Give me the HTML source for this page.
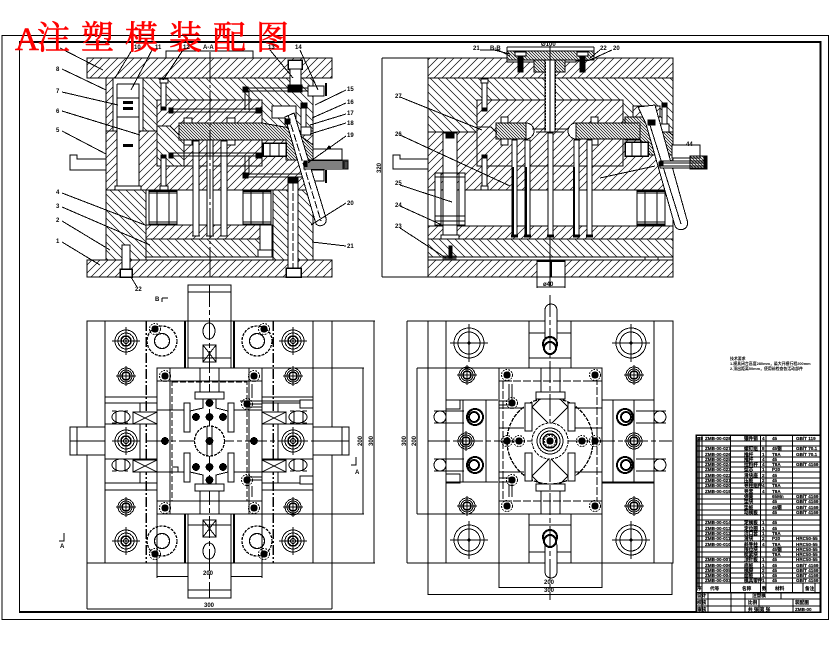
<!DOCTYPE html>
<html><head><meta charset="utf-8"><style>
html,body{margin:0;padding:0;background:#fff;width:830px;height:654px;overflow:hidden}
svg{display:block}
text{font-family:"Liberation Sans","Noto Sans CJK SC",sans-serif;font-weight:700;fill:#000;stroke:none}
.l{font-size:6px}
.s{font-size:4.6px;stroke:#000;stroke-width:.15}
.n{font-size:3.9px}
.t{font-family:"Liberation Serif","Noto Serif CJK SC",serif;font-size:33px;font-weight:400;fill:#f00;stroke:#f00;stroke-width:.6}
</style></head><body>
<svg width="830" height="654" viewBox="0 0 830 654" xmlns="http://www.w3.org/2000/svg" fill="none" stroke="#000" stroke-width="1">
<defs>
<pattern id="a" width="8" height="8" patternUnits="userSpaceOnUse"><path d="M-1 1L1 -1M0 8L8 0M7 9L9 7" stroke="#000" stroke-width=".7"/></pattern>
<pattern id="b" width="8" height="8" patternUnits="userSpaceOnUse"><path d="M-1 7L1 9M0 0L8 8M7 -1L9 1" stroke="#000" stroke-width=".7"/></pattern>
<pattern id="f" width="3" height="3" patternUnits="userSpaceOnUse"><path d="M0 0L3 3M-1 2L1 4M2 -1L4 1" stroke="#000" stroke-width=".7"/></pattern>
<g id="big"><circle r="15"/><circle r="11"/><path d="M-19 0H19M0 -19V19"/><circle r="1" fill="#000"/></g>
<g id="bolt1"><circle r="11"/><circle r="8"/><circle r="5" stroke-width="1.5"/><circle r="2.5"/><path d="M-14 0H14M0 -14V14"/></g>
<g id="bolt2"><circle r="8"/><circle r="6"/><circle r="4" stroke-width="1.5"/><path d="M-10 0H10M0 -10V10"/></g>
<g id="dk"><circle r="5.5" stroke-dasharray="2 1"/><circle r="3.2" fill="#000"/></g>
<circle id="d" r="3.4" fill="#000"/>
<g id="fr"><rect width="28" height="35"/><path d="M0 3H28M0 32H28M8 0V35M20 0V35"/><path d="M0 1H28M0 34H28" stroke-width="1.5"/></g>
</defs>
<rect width="830" height="654" fill="#fff" stroke="none"/>
<g shape-rendering="crispEdges">
<!-- sheet frame -->
<path d="M2 619.5V35.5H828.5V619.5Z"/>
<path d="M19.5 612V42H820" />
<path d="M19 42H820.5V612H19" stroke-width="2"/>

<!-- SECTION A-A -->
<rect x="166" y="51" width="87" height="7" fill="#fff"/>
<rect x="87" y="58" width="245" height="20" fill="url(#a)"/>
<rect x="106" y="78" width="207" height="182" fill="#fff"/>
<rect x="106" y="78" width="7" height="53" fill="url(#a)"/>
<rect x="143" y="78" width="170" height="53" fill="url(#b)"/>
<rect x="106" y="131" width="11" height="59" fill="url(#a)"/>
<rect x="139" y="131" width="174" height="59" fill="url(#a)"/>
<rect x="106" y="190" width="40" height="70" fill="url(#b)"/>
<rect x="273" y="190" width="40" height="70" fill="url(#b)"/>
<rect x="146" y="225" width="127" height="14" fill="url(#a)"/>
<rect x="146" y="239" width="127" height="18" fill="url(#b)"/>
<rect x="87" y="260" width="245" height="17" fill="url(#a)"/>
<rect x="157" y="100" width="105" height="66" fill="#fff"/>
<rect x="157" y="100" width="105" height="66" fill="url(#a)"/>
<path d="M157 126H170L184 140V166H157Z" fill="#fff"/>
<path d="M157 126H170L184 140V166H157Z" fill="url(#b)"/>
<path d="M272 106H296V118H272Z" fill="#fff"/>
<path d="M179 123H262L290 128L313 145V160H286V140H179Z" fill="#fff"/>
<path d="M179 123H262L290 128L313 145V160H286V140H179Z" fill="url(#f)"/>
<rect x="263" y="143" width="23" height="13" fill="#fff" stroke-width="1.5"/>
<path d="M270 143V156M279 143V156"/>
<path d="M143 78V131M113 78V131M117 84H139V190H117V84M117 98H139M117 117H139"/>
<rect x="123" y="101" width="10" height="3" fill="#000" stroke="none"/>
<rect x="123" y="107" width="10" height="3" fill="#000" stroke="none"/>
<rect x="123" y="144" width="10" height="3" fill="#000" stroke="none"/>
<rect x="115" y="186" width="26" height="4" fill="#fff"/>
<!-- spacer gap -->
<rect x="146" y="190" width="127" height="35" fill="#fff"/>
<use href="#fr" x="149" y="190"/><use href="#fr" x="243" y="190"/>
<!-- ejector pins -->
<rect x="193" y="141" width="6" height="95" fill="#fff"/><rect x="207" y="140" width="6" height="96" fill="#fff"/><rect x="221" y="141" width="6" height="95" fill="#fff"/>
<path d="M192 236h8M206 236h8M220 236h8M192 239h8M206 239h8M220 239h8"/>
<rect x="184" y="118" width="8" height="5" fill="#fff"/><rect x="227" y="118" width="8" height="5" fill="#fff"/>
<rect x="184" y="140" width="8" height="5" fill="#fff"/><rect x="227" y="140" width="8" height="5" fill="#fff"/>
<rect x="260" y="225" width="12" height="32" fill="#fff"/><rect x="258" y="250" width="14" height="7" fill="#fff"/>
<path d="M146 257V260M273 257V260M146 257H273M156 257h13M250 257h13" />
<path d="M210 52V277" stroke-dasharray="30 3 3 3"/>
<!-- bolts -->
<rect x="122" y="245" width="8" height="24" fill="#fff"/><rect x="120" y="269" width="12" height="8" fill="#fff" stroke-width="1.5"/>
<rect x="161" y="79" width="5" height="30" fill="#fff"/><rect x="160" y="79" width="8" height="4" fill="#fff"/><rect x="161" y="107" width="5" height="3" fill="#000"/>
<rect x="161" y="156" width="5" height="30" fill="#fff"/><rect x="160" y="186" width="8" height="4" fill="#fff"/><rect x="161" y="155" width="5" height="3" fill="#000"/>
<!-- cooling -->
<path d="M245 88H320M245 91H320M245 174H320M245 177H320M170 109H258M170 112H258M170 153H258M170 156H258M245 91V110M249 91V110M245 156V175M249 156V175" stroke-width="1"/>
<rect x="243" y="87" width="5" height="5" fill="#000"/><rect x="243" y="173" width="5" height="5" fill="#000"/><rect x="256" y="108" width="5" height="5" fill="#000"/><rect x="256" y="153" width="5" height="5" fill="#000"/>
<rect x="169" y="108" width="4" height="5" fill="#000"/><rect x="169" y="153" width="4" height="5" fill="#000"/>
<rect x="308" y="86" width="16" height="10" fill="#fff"/><rect x="308" y="170" width="16" height="11" fill="#fff"/>
<path d="M326 83V96M326 170V183" stroke-width="2"/>
<!-- leader pin -->
<rect x="288" y="60" width="14" height="9" fill="#fff" stroke-width="1.5"/>
<rect x="290" y="69" width="11" height="18" fill="#fff"/>
<rect x="288" y="85" width="14" height="7" fill="#000"/>
<rect x="288" y="178" width="10" height="5" fill="#000"/>
<rect x="288" y="183" width="10" height="85" fill="#fff"/>
<rect x="286" y="268" width="15" height="9" fill="#fff" stroke-width="1.5"/>
<path d="M293 183V268" stroke-dasharray="8 2"/>
<rect x="301" y="106" width="5" height="28" fill="#fff"/><rect x="301" y="127" width="10" height="8" fill="#fff"/><rect x="301" y="103" width="6" height="5" fill="#000"/>
<!-- angle pin -->
<path d="M285 117L294 113L326 218A6 6 0 0 1 316 224Z" fill="#fff"/>
<path d="M288 115L321 221" stroke-dasharray="8 2"/>
<rect x="285" y="119" width="5" height="5" fill="#000"/>
<!-- side bits -->
<path d="M70 155H77V159H106V170H70Z" fill="#fff"/>
<path d="M313 149H342V160H313Z" fill="#fff"/>
<rect x="304" y="161" width="44" height="8" fill="#fff"/>
<path d="M304 163H345M304 165H345M304 167H345M343 161V169"/>
<rect x="343" y="160" width="5" height="9" fill="#000" opacity=".7"/>
<path d="M327 149l2-3 2 3" fill="#000"/>
<rect x="304" y="162" width="3" height="5" fill="#000"/>
<!-- leaders A -->
<path d="M60 48L103 70M62 69L106 90M62 92L118 105M62 111L140 135M62 131L106 154M62 193L145 225M62 207L150 245M62 221L110 250M62 242L100 265"/>
<path d="M132 50L115 78M152 50L131 90M183 50L163 80M270 50L293 78M300 50L318 90M346 90L315 105M346 103L312 118M346 114L310 125M346 123L310 134M346 136L305 165M346 203L311 225M346 246L312 242"/>
<path d="M131 277L137 287"/>
<!-- sect A dim stub -->
<path d="M188 285V296M230 285V296M188 285H230M209 285V296"/>

<!-- SECTION B-B -->
<rect x="428" y="58" width="245" height="20" fill="url(#a)"/>
<rect x="428" y="78" width="245" height="54" fill="url(#b)"/>
<rect x="428" y="132" width="245" height="58" fill="url(#a)"/>
<rect x="428" y="190" width="245" height="36" fill="#fff"/>
<rect x="428" y="226" width="245" height="13" fill="url(#a)"/>
<rect x="428" y="239" width="245" height="18" fill="url(#b)"/>
<rect x="428" y="257" width="245" height="3" fill="#fff"/>
<rect x="428" y="260" width="245" height="17" fill="url(#a)"/>
<rect x="645" y="257" width="13" height="3" fill="#fff"/>
<rect x="537" y="261" width="28" height="16" fill="#fff"/><path d="M551 261V277M537 261H565" stroke-width="2"/>
<rect x="477" y="100" width="146" height="66" fill="#fff"/>
<rect x="477" y="100" width="146" height="66" fill="url(#a)"/>
<!-- slide wedge B -->
<path d="M633 106H660V117H633Z" fill="#fff"/>
<path d="M633 106H660V117H633Z" fill="url(#a)"/>
<path d="M625 117H645L673 135V155H650L640 140H625Z" fill="#fff"/>
<path d="M625 117H645L673 135V155H650L640 140H625Z" fill="url(#f)"/>
<path d="M496 123H526A8 8 0 0 1 526 139H496Z" fill="#fff"/>
<path d="M496 123H526V139H496Z" fill="url(#f)"/>
<path d="M576 123H640V139H576A8 8 0 0 1 576 123Z" fill="#fff"/>
<path d="M576 123H640V139H576Z" fill="url(#f)"/>
<path d="M477 127H491L497 133M532 129H568M536 132H564"/>
<rect x="501" y="117" width="7" height="6" fill="#fff"/><rect x="591" y="117" width="7" height="6" fill="#fff"/><rect x="501" y="139" width="7" height="6" fill="#fff"/><rect x="591" y="139" width="7" height="6" fill="#fff"/>
<rect x="625" y="142" width="23" height="14" fill="#fff" stroke-width="1.5"/><path d="M632 142V156M641 142V156"/>
<!-- sprue -->
<path d="M507 51H594V60L576 61V62H507Z" fill="#fff"/>
<path d="M507 51H594V60H507Z" fill="url(#f)"/>
<rect x="534" y="60" width="31" height="12" fill="#fff"/><rect x="534" y="60" width="31" height="12" fill="url(#f)"/>
<rect x="545" y="60" width="10" height="72" fill="#fff"/>
<path d="M545 62V130M555 62V130" stroke-dasharray="2 1" stroke-width="1.5"/>
<rect x="518" y="52" width="5" height="20" fill="#000"/><rect x="580" y="52" width="5" height="20" fill="#000"/>
<rect x="515" y="52" width="11" height="4" fill="#fff"/><rect x="577" y="52" width="11" height="4" fill="#fff"/>
<path d="M550 46V287"/>
<!-- pillars B -->
<rect x="443" y="133" width="14" height="104" fill="#fff"/>
<rect x="441" y="235" width="18" height="4" fill="#fff"/><rect x="446" y="134" width="8" height="4" fill="#000"/>
<g fill="#fff"><rect x="435" y="173" width="6" height="52"/><rect x="459" y="173" width="6" height="52"/></g>
<path d="M435 173H465M435 177H465M435 216H465M435 221H465M435 225H465" stroke-width="1"/>
<use href="#fr" x="637" y="190"/>
<!-- ejector -->
<rect x="512" y="140" width="5" height="96" fill="#fff"/><rect x="525" y="140" width="5" height="96" fill="#fff"/><rect x="548" y="133" width="5" height="103" fill="#fff"/><rect x="574" y="140" width="5" height="96" fill="#fff"/><rect x="587" y="140" width="5" height="96" fill="#fff"/>
<path d="M513 167V236M526 167V236M574 167V236" stroke-width="2"/>
<path d="M511 236h7M524 236h7M547 236h7M573 236h7M586 236h7" stroke-width="3"/>
<!-- bolts B -->
<rect x="482" y="80" width="5" height="30" fill="#fff"/><rect x="481" y="79" width="7" height="4" fill="#fff"/><rect x="482" y="108" width="5" height="3" fill="#000"/>
<rect x="482" y="156" width="5" height="31" fill="#fff"/><rect x="481" y="186" width="7" height="4" fill="#fff"/><rect x="482" y="155" width="5" height="3" fill="#000"/>
<rect x="449" y="246" width="3" height="12" fill="#000"/><rect x="443" y="256" width="13" height="4" fill="#000" opacity=".7"/>
<rect x="662" y="104" width="5" height="21" fill="#fff"/><rect x="660" y="124" width="9" height="8" fill="#fff"/><rect x="662" y="103" width="5" height="4" fill="#000"/>
<!-- angle pin B -->
<path d="M638 107L655 105L687 220A6 6 0 0 1 675 226L646 124Z" fill="#fff"/>
<path d="M649 122L681 224" stroke-width="1"/>
<rect x="648" y="120" width="7" height="5" fill="#000"/>
<path d="M393 155H400V159H428V169H393Z" fill="#fff"/>
<rect x="672" y="145" width="28" height="13" fill="#fff"/>
<rect x="660" y="161" width="46" height="7" fill="#fff"/>
<path d="M660 163H704M660 166H704"/>
<rect x="690" y="156" width="16" height="13" fill="url(#f)"/><rect x="704" y="156" width="3" height="13" fill="#000"/>
<rect x="659" y="162" width="4" height="4" fill="#000"/>
<!-- B leaders -->
<path d="M382 58H428M382 277H428M382 58V277M537 277V288M565 277V288M537 287H565"/>
<path d="M507 47H594M507 47V58M594 47V58"/>
<path d="M400 97L482 130M400 135L510 186M400 185L452 202M400 206L442 225M400 228L446 258M600 178L655 166"/>
<path d="M480 50H498L510 56M494 50L510 54M600 50L590 58M612 50L590 60"/>

<!-- PLAN LEFT -->
<rect x="87" y="321" width="245" height="242" fill="#fff"/>
<path d="M105 321V563M313 321V563M87 563V609M332 563V609M87 609H332M157 514V578M262 514V578M157 576.5H262"/>
<path d="M332 321H375M332 563H375M374 321V563M262 368H364M262 514H364M363 368V514"/>
<rect x="188" y="285" width="43" height="313" fill="#fff"/>
<path d="M188 292H231M188 590H231M188 321H231M188 563H231"/>
<path d="M185 321V368M234 321V368M185 514V563M234 514V563" stroke-width="2"/>
<rect x="70" y="427" width="35" height="28" fill="#fff"/><rect x="313" y="427" width="36" height="28" fill="#fff"/>
<path d="M77 427V455M342 427V455M70 441H105M313 441H349"/>
<path d="M105 397H157M105 403H157M105 424H157M105 459H157M105 483H157M105 490H157M262 397H313M262 403H313M262 424H313M262 459H313M262 483H313M262 490H313M140 403V483M278 403V483"/>
<path d="M146 321V563M273 321V563" stroke-dasharray="10 2 2 2" stroke-width="1.5"/>
<!-- X boxes -->
<g fill="#fff">
<rect x="133" y="412" width="24" height="12"/><rect x="133" y="460" width="24" height="12"/>
<rect x="262" y="412" width="24" height="12"/><rect x="262" y="460" width="24" height="12"/>
<rect x="203" y="345" width="13" height="17"/><rect x="203" y="520" width="13" height="17"/>
</g>
<path d="M133 412L157 424M133 424L157 412M133 460L157 472M133 472L157 460M262 412L286 424M262 424L286 412M262 460L286 472M262 472L286 460M203 345L216 362M216 345L203 362M203 520L216 537M216 520L203 537M188 358H231M188 525H231"/>
<g fill="#fff">
<ellipse cx="121" cy="417" rx="9" ry="6"/><ellipse cx="121" cy="465" rx="9" ry="6"/><ellipse cx="298" cy="417" rx="9" ry="6"/><ellipse cx="298" cy="465" rx="9" ry="6"/>
<ellipse cx="209" cy="331" rx="6" ry="8"/><ellipse cx="209" cy="551" rx="6" ry="8"/>
</g>
<path d="M112 411H116V423H112M128 411H125V423H128M112 459H116V471H112M128 459H125V471H128M290 411H294V423H290M307 411H303V423H307M290 459H294V471H290M307 459H303V471H307"/>
<!-- big corner -->
<g stroke-width="1.3">
<circle cx="162" cy="341" r="15" stroke-dasharray="3 1"/><circle cx="162" cy="341" r="7.5"/>
<circle cx="257" cy="341" r="15" stroke-dasharray="3 1"/><circle cx="257" cy="341" r="7.5"/>
<circle cx="162" cy="541" r="15" stroke-dasharray="3 1"/><circle cx="162" cy="541" r="7.5"/>
<circle cx="257" cy="541" r="15" stroke-dasharray="3 1"/><circle cx="257" cy="541" r="7.5"/>
</g>
<use href="#dk" x="155" y="329"/><use href="#dk" x="264" y="329"/><use href="#dk" x="155" y="554"/><use href="#dk" x="264" y="554"/>
<use href="#bolt1" x="126" y="341"/><use href="#bolt1" x="293" y="341"/><use href="#bolt1" x="126" y="541"/><use href="#bolt1" x="293" y="541"/>
<use href="#bolt2" x="126" y="376"/><use href="#bolt2" x="293" y="376"/><use href="#bolt2" x="126" y="507"/><use href="#bolt2" x="293" y="507"/>
<use href="#bolt1" x="126" y="441"/><use href="#bolt1" x="293" y="441"/>
<!-- inner -->
<rect x="157" y="368" width="105" height="146" fill="#fff" stroke-width="1"/>
<path d="M157 381H262M157 501H262M170 368V514M249 368V514M157 410H184M234 410H262M157 472H184M234 472H262"/>
<rect x="172" y="382" width="75" height="119" stroke-dasharray="6 2"/>
<path d="M200 368V392M219 368V392M200 491V514M219 491V514"/>
<path d="M146 441H313M209.500 285V598" stroke-dasharray="22 3 5 3"/>
<g fill="#fff">
<rect x="195" y="392" width="29" height="7"/><rect x="195" y="484" width="29" height="7"/>
<rect x="184" y="403" width="6" height="29"/><rect x="228" y="403" width="6" height="29"/><rect x="184" y="453" width="6" height="29"/><rect x="228" y="453" width="6" height="29"/>
</g>
<path d="M203 399V408L190 411M216 399V408L228 411M203 484V475L190 472M216 484V475L228 472"/>
<circle cx="209.500" cy="441" r="15" stroke-dasharray="3 1" stroke-width="1.3" fill="#fff"/>
<path d="M207 426V456M212 426V456"/>
<g><use href="#d" x="196" y="417"/><use href="#d" x="209.500" y="417"/><use href="#d" x="223" y="417"/><use href="#d" x="196" y="467"/><use href="#d" x="209.500" y="467"/><use href="#d" x="223" y="467"/><use href="#d" x="209.500" y="403"/><use href="#d" x="209.500" y="480"/><use href="#d" x="209.500" y="441"/><use href="#d" x="165" y="441"/><use href="#d" x="254" y="441"/></g>
<use href="#dk" x="247" y="404"/><use href="#dk" x="247" y="480"/>
<use href="#dk" x="165" y="376"/><use href="#dk" x="254" y="376"/><use href="#dk" x="165" y="508"/><use href="#dk" x="254" y="508"/>
<path d="M247 404H262M247 407H262M247 480H262M247 477H262M240 401H300M249 384V398M252 384V398M249 486V497M252 486V497" />
<rect x="300" y="400" width="13" height="8" fill="#fff" stroke-width="1.3"/><rect x="300" y="476" width="13" height="8" fill="#fff" stroke-width="1.3"/>
<!-- section marks -->
<path d="M162 298H168M162 298V302M356 457V465H351M64 533V541H59M185 368H175M172 467H178V472"/>

<!-- PLAN RIGHT -->
<rect x="428" y="321" width="245" height="242" fill="#fff"/>
<path d="M446 321V563M654 321V563M407 321H428M407 563H428M407 321V563M417 368H499M417 514H499M417 368V514"/>
<path d="M428 563V595M672 563V595M428 594.500H672M499 514V588M602 514V588M499 587.500H602"/>
<rect x="529" y="321" width="42" height="47" fill="#fff"/><rect x="529" y="514" width="42" height="49" fill="#fff"/>
<path d="M529 321V358H571V321M529 333H571M529 514H571M529 525H571M529 552H571M529 563V525M571 563V525" stroke-width="1.3"/>
<rect x="545" y="304" width="12" height="40" rx="6" fill="#fff"/>
<rect x="545" y="540" width="12" height="38" rx="6" fill="#fff"/>
<circle cx="550" cy="344" r="7" stroke-width="2" fill="#fff"/><circle cx="550" cy="348" r="6" stroke-width="2" fill="#fff"/>
<circle cx="550" cy="537" r="7" stroke-width="2" fill="#fff"/><circle cx="550" cy="541" r="6" stroke-width="2" fill="#fff"/>
<use href="#big" x="469" y="343"/><use href="#big" x="631" y="343"/><use href="#big" x="469" y="540"/><use href="#big" x="631" y="540"/>
<use href="#bolt2" x="467" y="375"/><use href="#bolt2" x="634" y="375"/><use href="#bolt2" x="467" y="506"/><use href="#bolt2" x="634" y="506"/>
<!-- slider wings -->
<path d="M446 400H498M446 482H498M463 400V482M486 400V482M613 400V482M634 400V482M602 400H654M602 482H654" stroke-width="1"/>
<rect x="446" y="400" width="14" height="9" fill="#fff" stroke-width="1.3"/><rect x="446" y="474" width="14" height="9" fill="#fff" stroke-width="1.3"/>
<path d="M446 482.500H460M602 482.500H654" stroke-width="2"/>
<path d="M434 411H464M434 423H464M434 459H464M434 471H464M636 411H666M636 423H666M636 459H666M636 471H666"/>
<g fill="#fff">
<circle cx="440" cy="417" r="6"/><circle cx="440" cy="465" r="6"/><circle cx="660" cy="417" r="6"/><circle cx="660" cy="465" r="6"/>
</g>
<g stroke-width="2" fill="#fff"><circle cx="475" cy="417" r="8"/><circle cx="474" cy="417" r="5"/><circle cx="475" cy="465" r="8"/><circle cx="474" cy="465" r="5"/><circle cx="625" cy="417" r="8"/><circle cx="626" cy="417" r="5"/><circle cx="625" cy="465" r="8"/><circle cx="626" cy="465" r="5"/></g>
<use href="#bolt2" x="466" y="441"/><use href="#bolt2" x="634" y="441"/>
<!-- inner -->
<rect x="499" y="368" width="103" height="146" fill="#fff" stroke-width="1"/>
<circle cx="550" cy="441" r="43" stroke-dasharray="4 1" stroke-width="1.3"/>
<rect x="503" y="381" width="94" height="120" stroke-dasharray="8 2"/>
<path d="M499 381H512M590 381H602M499 501H512M590 501H602M499 408H524M575 408H602M499 472H524M575 472H602M499 428H524M575 428H602"/>
<path d="M541 368V392M560 368V392M541 491V514M560 491V514"/>
<g fill="#fff">
<rect x="536" y="392" width="29" height="7"/><rect x="536" y="484" width="29" height="7"/>
<rect x="525" y="403" width="7" height="28"/><rect x="568" y="403" width="7" height="28"/><rect x="525" y="453" width="7" height="28"/><rect x="568" y="453" width="7" height="28"/>
</g>
<path d="M532 407L550 425L568 407M532 476L550 458L568 476M540 399L532 407M560 399L568 407M540 484L532 476M560 484L568 476"/>
<path d="M428 441H672M550 295V600" stroke-dasharray="22 3 5 3"/>
<g><circle cx="550" cy="441" r="18" stroke-dasharray="3 1" fill="#fff"/><circle cx="550" cy="441" r="13"/><circle cx="550" cy="441" r="10"/><circle cx="550" cy="441" r="7" stroke-width="1.5"/><use href="#dk" x="550" y="441"/></g>
<use href="#dk" x="507" y="441"/><use href="#dk" x="519" y="441"/><use href="#dk" x="582" y="441"/><use href="#dk" x="595" y="441"/>
<use href="#dk" x="512" y="403"/><use href="#dk" x="512" y="480"/>
<use href="#dk" x="507" y="375"/><use href="#dk" x="595" y="375"/><use href="#dk" x="507" y="506"/><use href="#dk" x="595" y="506"/>
<path d="M499 401H510M499 405H510M499 478H510M499 482H510M509 384V400M512 384V400M509 484V497M512 484V497" />
<!-- title block -->
<rect x="696" y="435" width="124" height="177" fill="#fff" stroke-width="1.5"/>
<path d="M696 441H820M696 446H820M696 451H820M696 457H820M696 462H820M696 467H820M696 472H820M696 478H820M696 483H820M696 488H820M696 494H820M696 499H820M696 504H820M696 510H820M696 515H820M696 520H820M696 525H820M696 531H820M696 536H820M696 541H820M696 547H820M696 552H820M696 557H820M696 562H820M696 568H820M696 573H820M696 578H820M696 583H820"/>
<path d="M702 435V592M730.500 435V592M760.500 435V592M766 435V592M792.500 435V592"/>
<path d="M696 592.500H820" stroke-width="1.5"/>
<path d="M702 592V612M708 592V612M731 592V612M745 592V612M745 599H820M745 606H820M696 599H745M696 606H745M781 592V599M759 599V612M793 599V612M803 583V592M815 583V592"/>
<rect x="696" y="437" width="4" height="150" fill="#000" opacity=".7" stroke="none"/>
</g>

<!-- TITLE -->
<text class="t" x="15" y="50">A</text>
<text class="t" x="37" y="49">注</text>
<text class="t" x="81" y="49">塑</text>
<text class="t" x="125" y="49">模</text>
<text class="t" x="169" y="49">装</text>
<text class="t" x="213" y="49">配</text>
<text class="t" x="256" y="49">图</text>

<!-- labels -->
<text class="l" x="56" y="71">8</text><text class="l" x="56" y="93">7</text><text class="l" x="56" y="113">6</text><text class="l" x="56" y="132">5</text><text class="l" x="56" y="194">4</text><text class="l" x="56" y="208">3</text><text class="l" x="56" y="222">2</text><text class="l" x="56" y="243">1</text>
<text class="l" x="134" y="49">10</text><text class="l" x="155" y="49">11</text><text class="l" x="183" y="49">12</text><text class="l" x="203" y="49">A-A</text><text class="l" x="268" y="49">13</text><text class="l" x="295" y="49">14</text>
<text class="l" x="347" y="91">15</text><text class="l" x="347" y="104">16</text><text class="l" x="347" y="115">17</text><text class="l" x="347" y="125">18</text><text class="l" x="347" y="137">19</text><text class="l" x="347" y="205">20</text><text class="l" x="347" y="248">21</text><text class="l" x="135" y="291">22</text>
<text class="l" x="473" y="50">21</text><text class="l" x="490" y="50">B-B</text><text class="l" x="541" y="46">Ø100</text><text class="l" x="600" y="50">22</text><text class="l" x="613" y="50">20</text>
<text class="l" x="395" y="98">27</text><text class="l" x="395" y="136">26</text><text class="l" x="395" y="185">25</text><text class="l" x="395" y="207">24</text><text class="l" x="395" y="228">23</text>
<text class="l" x="543" y="286">ø40</text><text class="l" x="686" y="146">44</text>
<text class="l" transform="translate(381 173) rotate(-90)">320</text>
<text class="l" x="203" y="575">200</text><text class="l" x="204" y="607">300</text><text class="l" x="544" y="584">200</text><text class="l" x="544" y="592">300</text>
<text class="l" x="155" y="301">B</text><text class="l" x="60" y="548">A</text><text class="l" x="355" y="474">A</text>
<text class="l" transform="translate(362 446) rotate(-90)">200</text><text class="l" transform="translate(373 446) rotate(-90)">300</text>
<text class="l" transform="translate(406 446) rotate(-90)">300</text><text class="l" transform="translate(416 446) rotate(-90)">200</text>
<text class="n" x="730" y="360">技术要求</text>
<text class="n" x="730" y="365">1.模具闭合高度280mm，最大开模行程200mm</text>
<text class="n" x="730" y="370">2.顶出距离50mm，使用前检查各活动部件</text>
<g>
<text class="s" x="698" y="440">28</text><text class="s" x="705" y="440">ZMB-00-028</text><text class="s" x="744" y="440">镶件销</text><text class="s" x="762" y="440">4</text><text class="s" x="772" y="440">45</text><text class="s" x="796" y="440">GB/T 119</text>
<text class="s" x="705" y="450">ZMB-00-027</text><text class="s" x="744" y="450">螺钉组</text><text class="s" x="762" y="450">8</text><text class="s" x="772" y="450">45钢</text><text class="s" x="796" y="450">GB/T 70.1</text>
<text class="s" x="705" y="456">ZMB-00-026</text><text class="s" x="744" y="456">推杆</text><text class="s" x="762" y="456">1</text><text class="s" x="772" y="456">T8A</text><text class="s" x="796" y="456">GB/T 70.1</text>
<text class="s" x="705" y="461">ZMB-00-025</text><text class="s" x="744" y="461">推杆</text><text class="s" x="762" y="461">4</text><text class="s" x="772" y="461">45</text>
<text class="s" x="705" y="466">ZMB-00-024</text><text class="s" x="744" y="466">拉料杆</text><text class="s" x="762" y="466">4</text><text class="s" x="772" y="466">T8A</text><text class="s" x="796" y="466">GB/T 4169</text>
<text class="s" x="705" y="471">ZMB-00-023</text><text class="s" x="744" y="471">型芯</text><text class="s" x="762" y="471">1</text><text class="s" x="772" y="471">P20</text>
<text class="s" x="705" y="477">ZMB-00-022</text><text class="s" x="744" y="477">滑块座</text><text class="s" x="762" y="477">2</text><text class="s" x="772" y="477">45</text>
<text class="s" x="705" y="482">ZMB-00-021</text><text class="s" x="744" y="482">压板</text><text class="s" x="762" y="482">2</text><text class="s" x="772" y="482">45</text>
<text class="s" x="705" y="487">ZMB-00-020</text><text class="s" x="744" y="487">导柱组件</text><text class="s" x="762" y="487">4</text><text class="s" x="772" y="487">T8A</text>
<text class="s" x="705" y="493">ZMB-00-019</text><text class="s" x="744" y="493">导套</text><text class="s" x="762" y="493">4</text><text class="s" x="772" y="493">T8A</text>
<text class="s" x="744" y="498">弹簧</text><text class="s" x="772" y="498">65Mn</text><text class="s" x="796" y="498">GB/T 4169</text>
<text class="s" x="744" y="503">垫块</text><text class="s" x="772" y="503">45</text><text class="s" x="796" y="503">GB/T 4169</text>
<text class="s" x="744" y="509">垫板</text><text class="s" x="772" y="509">45钢</text><text class="s" x="796" y="509">GB/T 4169</text>
<text class="s" x="744" y="514">动模板</text><text class="s" x="772" y="514">45</text><text class="s" x="796" y="514">GB/T 4169</text>
<text class="s" x="705" y="524">ZMB-00-014</text><text class="s" x="744" y="524">定模板</text><text class="s" x="762" y="524">1</text><text class="s" x="772" y="524">45</text>
<text class="s" x="705" y="530">ZMB-00-013</text><text class="s" x="744" y="530">定位圈</text><text class="s" x="762" y="530">1</text><text class="s" x="772" y="530">45</text>
<text class="s" x="705" y="535">ZMB-00-012</text><text class="s" x="744" y="535">浇口套</text><text class="s" x="762" y="535">1</text><text class="s" x="772" y="535">T8A</text>
<text class="s" x="705" y="540">ZMB-00-011</text><text class="s" x="744" y="540">滑块</text><text class="s" x="762" y="540">2</text><text class="s" x="772" y="540">P20</text><text class="s" x="796" y="540">HRC50-55</text>
<text class="s" x="705" y="546">ZMB-00-010</text><text class="s" x="744" y="546">斜导柱</text><text class="s" x="762" y="546">4</text><text class="s" x="772" y="546">T8A</text><text class="s" x="796" y="546">HRC50-55</text>
<text class="s" x="744" y="551">限位块</text><text class="s" x="772" y="551">45钢</text><text class="s" x="796" y="551">HRC50-55</text>
<text class="s" x="744" y="556">楔紧块</text><text class="s" x="772" y="556">T8A</text><text class="s" x="796" y="556">HRC50-55</text>
<text class="s" x="705" y="561">ZMB-00-007</text><text class="s" x="744" y="561">顶针板</text><text class="s" x="762" y="561">1</text><text class="s" x="772" y="561">45</text><text class="s" x="796" y="561">HRC50-55</text>
<text class="s" x="705" y="567">ZMB-00-006</text><text class="s" x="744" y="567">底板</text><text class="s" x="762" y="567">1</text><text class="s" x="772" y="567">45</text><text class="s" x="796" y="567">GB/T 4169</text>
<text class="s" x="705" y="572">ZMB-00-005</text><text class="s" x="744" y="572">模脚</text><text class="s" x="762" y="572">2</text><text class="s" x="772" y="572">45</text><text class="s" x="796" y="572">GB/T 4169</text>
<text class="s" x="705" y="577">ZMB-00-004</text><text class="s" x="744" y="577">面板</text><text class="s" x="762" y="577">1</text><text class="s" x="772" y="577">45</text><text class="s" x="796" y="577">GB/T 4169</text>
<text class="s" x="705" y="582">ZMB-00-003</text><text class="s" x="744" y="582">模具零件</text><text class="s" x="762" y="582">1</text><text class="s" x="772" y="582">45</text><text class="s" x="796" y="582">GB/T 4169</text>
<text class="s" x="697" y="590">序</text><text class="s" x="710" y="590">代号</text><text class="s" x="742" y="590">名称</text><text class="s" x="762" y="590">数</text><text class="s" x="775" y="590">材料</text><text class="s" x="805" y="590">备注</text>
<text class="s" x="697" y="597">设计</text><text class="s" x="697" y="604">校核</text><text class="s" x="697" y="611">审核</text><text class="s" x="752" y="597">注塑模</text><text class="s" x="748" y="604">比例</text><text class="s" x="795" y="604">装配图</text><text class="s" x="748" y="611">共 张 第 张</text><text class="s" x="795" y="611">ZMB-00</text>
</g>
</svg>
</body></html>
